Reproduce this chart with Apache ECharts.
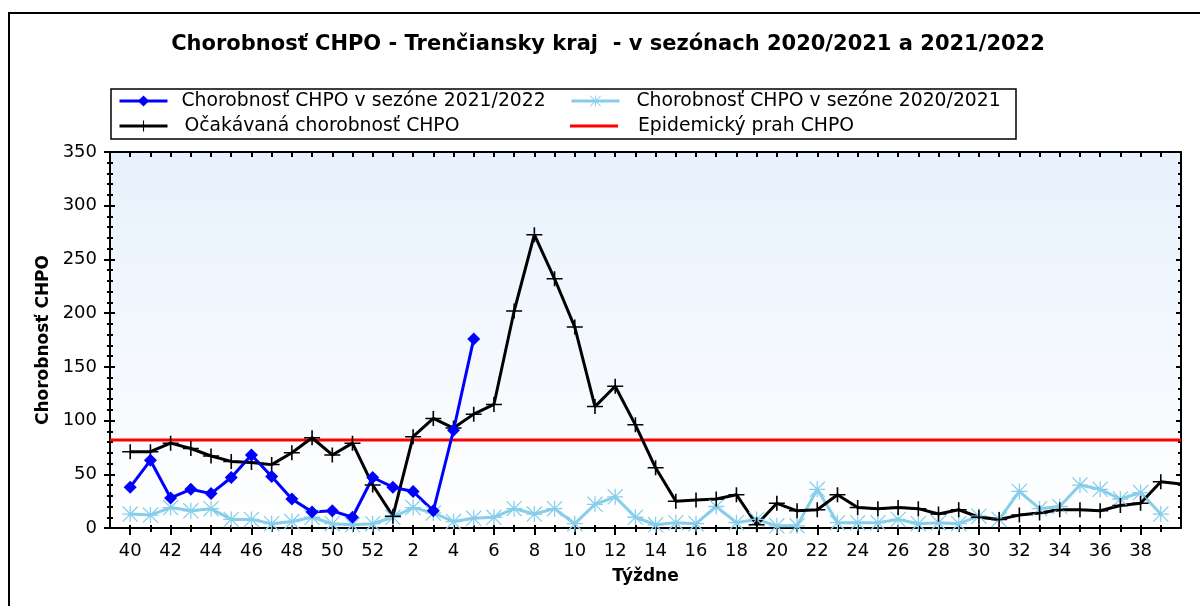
<!DOCTYPE html>
<html lang="sk">
<head>
<meta charset="UTF-8">
<title>Chorobnosť CHPO - Trenčiansky kraj</title>
<style>
  html, body { margin: 0; padding: 0; background: #fff; }
  #chart { width: 1200px; height: 606px; }
</style>
</head>
<body>
<div id="chart"></div>
<script src="https://cdn.jsdelivr.net/npm/echarts@6/dist/echarts.min.js"></script>
<script>
// tyzdne sezony (40..52, 1..39) + zaciatok dalsej sezony
var weeks = [40, 41, 42, 43, 44, 45, 46, 47, 48, 49, 50, 51, 52,
  1, 2, 3, 4, 5, 6, 7, 8, 9, 10, 11, 12, 13, 14, 15, 16, 17, 18, 19, 20,
  21, 22, 23, 24, 25, 26, 27, 28, 29, 30, 31, 32, 33, 34, 35, 36, 37, 38, 39, 40];

// sezona 2021/2022 (tyzden 40 az 5)
var season2122 = [38, 63, 28, 36, 32, 47, 68, 48, 27, 15, 16, 10, 47,
  38, 34, 16, 91, 176];

// sezona 2020/2021
var season2021 = [13, 12, 19, 16, 18, 8, 8, 4, 6, 10, 4, 3, 4,
  10, 19, 14, 6, 9, 10, 18, 13, 18, 4, 22, 29, 10, 3, 5, 4, 20, 5, 8, 2,
  2, 36, 5, 5, 5, 8, 4, 5, 4, 11, 8, 34, 18, 20, 40, 36, 27, 33, 13];

// ocakavana chorobnost
var expected = [71, 71, 79, 74, 67, 62, 61, 59, 70, 84, 68, 79, 40,
  11, 85, 102, 93, 106, 115, 202, 273, 232, 187, 113, 132, 96, 56, 25, 26, 27, 31, 3, 23,
  16, 17, 31, 19, 18, 19, 18, 13, 17, 10, 8, 12, 14, 17, 17, 16, 21, 23, 43, 41];

// epidemicky prah
var threshold = 82;

var yMin = 0, yMax = 350, yStep = 50;

var FONT = 'DejaVu Sans';

var names = {
  s2122: 'Chorobnosť CHPO v sezóne 2021/2022',
  s2021: 'Chorobnosť CHPO v sezóne 2020/2021',
  exp: 'Očakávaná chorobnosť CHPO',
  thr: 'Epidemický prah CHPO'
};

function toPoints(arr) {
  return arr.map(function (v, i) { return [i, v]; });
}

var labelIdx = [];
var allIdx = [];
for (var i = 0; i < 52; i++) {
  allIdx.push(i);
  if (i % 2 === 0) labelIdx.push(i);
}

var expectedPts = toPoints(expected);
// posledny bod lezi na okraji osi, bez znacky
expectedPts[expectedPts.length - 1] = { value: expectedPts[expectedPts.length - 1], symbol: 'none' };

var asterisk = 'path://M0 9.2H20V10.8H0Z M9.2 0H10.8V20H9.2Z M1.1 0L20 18.9L18.9 20L0 1.1Z M18.9 0L20 1.1L1.1 20L0 18.9Z';
var plus = 'path://M0 9H20V11H0Z M9 0H11V20H9Z';

var chart = echarts.init(document.getElementById('chart'));

var xBase = {
  type: 'value', min: -1, max: 52, position: 'bottom',
  splitLine: { show: false },
  axisLine: { show: false, onZero: false },
  axisLabel: { show: false },
  axisTick: { show: false }
};
var yBase = {
  type: 'value', min: yMin, max: yMax, interval: yStep, position: 'left',
  splitLine: { show: false },
  axisLine: { show: false, onZero: false },
  axisLabel: { show: false },
  axisTick: { show: false }
};
function ext(a, b) { return Object.assign({}, a, b); }

var legendCommon = {
  orient: 'horizontal',
  padding: 0,
  itemWidth: 48,
  itemHeight: 14,
  selectedMode: false,
  lineStyle: { width: 3 }
};
function legendText(pad) {
  return { fontFamily: FONT, fontSize: 18.8, color: '#000', lineHeight: 20, padding: [0, 0, 0, pad] };
}

var option = {
  animation: false,
  backgroundColor: '#fff',
  grid: {
    left: 110, right: 19, top: 152, bottom: 78,
    show: true, borderWidth: 0,
    backgroundColor: new echarts.graphic.LinearGradient(0, 0, 0, 1, [
      { offset: 0, color: '#e7f1fc' },
      { offset: 1, color: '#ffffff' }
    ])
  },
  graphic: [
    { type: 'rect', shape: { x: 9, y: 13, width: 1220, height: 640 },
      style: { fill: null, stroke: '#000', lineWidth: 2 } },
    { type: 'rect', shape: { x: 111, y: 89, width: 905, height: 50 },
      style: { fill: null, stroke: '#000', lineWidth: 1.5 } },
    { type: 'text', x: 608, y: 45,
      style: { text: 'Chorobnosť CHPO - Trenčiansky kraj  - v sezónach 2020/2021 a 2021/2022',
        fontFamily: FONT, fontSize: 21, fontWeight: 'bold', fill: '#000',
        textAlign: 'center', textVerticalAlign: 'middle' } }
  ],
  legend: [
    ext(legendCommon, { data: [names.s2122], left: 118, top: 91, textStyle: legendText(9) }),
    ext(legendCommon, { data: [names.exp], left: 118, top: 116, textStyle: legendText(12) }),
    ext(legendCommon, { data: [names.s2021], left: 570, top: 91, textStyle: legendText(12) }),
    ext(legendCommon, { data: [{ name: names.thr, icon: 'path://M0 0H48V3H0Z' }], left: 570, top: 116, textStyle: legendText(15) })
  ],
  xAxis: [
    ext(xBase, {
      axisLine: { show: true, onZero: false, lineStyle: { color: '#000', width: 2 } },
      axisTick: { show: true, customValues: labelIdx, length: 7, lineStyle: { color: '#000', width: 2 } },
      axisLabel: {
        show: true, customValues: labelIdx, margin: 14,
        fontFamily: FONT, fontSize: 18, color: '#000',
        formatter: function (v) { return String(weeks[v]); }
      },
      name: 'Týždne', nameLocation: 'middle', nameGap: 40,
      nameTextStyle: { fontFamily: FONT, fontSize: 17, fontWeight: 'bold', color: '#000' }
    }),
    ext(xBase, { axisTick: { show: true, customValues: allIdx, length: 4, lineStyle: { color: '#000', width: 2 } } }),
    ext(xBase, { axisTick: { show: true, inside: true, customValues: allIdx, length: 3, lineStyle: { color: '#000', width: 2 } } }),
    ext(xBase, {
      position: 'top',
      axisLine: { show: true, onZero: false, lineStyle: { color: '#000', width: 2 } },
      axisTick: { show: true, inside: true, customValues: allIdx, length: 5, lineStyle: { color: '#000', width: 2 } }
    })
  ],
  yAxis: [
    ext(yBase, {
      axisLine: { show: true, onZero: false, lineStyle: { color: '#000', width: 2 } },
      axisTick: { show: true, length: 6, lineStyle: { color: '#000', width: 2 } },
      minorTick: { show: true, splitNumber: 5, length: 3, lineStyle: { color: '#000', width: 2 } },
      axisLabel: { show: true, margin: 13, fontFamily: FONT, fontSize: 18, color: '#000' },
      name: 'Chorobnosť CHPO', nameLocation: 'middle', nameGap: 55,
      nameTextStyle: { fontFamily: FONT, fontSize: 17, fontWeight: 'bold', color: '#000' }
    }),
    ext(yBase, {
      axisTick: { show: true, inside: true, length: 5, lineStyle: { color: '#000', width: 2 } },
      minorTick: { show: true, splitNumber: 5, length: 3, lineStyle: { color: '#000', width: 2 } }
    }),
    ext(yBase, {
      position: 'right',
      axisLine: { show: true, onZero: false, lineStyle: { color: '#000', width: 2 } },
      axisTick: { show: true, inside: true, length: 5, lineStyle: { color: '#000', width: 2 } },
      minorTick: { show: true, splitNumber: 5, length: 3, lineStyle: { color: '#000', width: 2 } }
    })
  ],
  series: [
    {
      name: names.thr, type: 'line', symbol: 'none',
      data: [[-1, threshold], [52, threshold]],
      lineStyle: { color: '#ff0000', width: 3 },
      itemStyle: { color: '#ff0000' }
    },
    {
      name: names.s2021, type: 'line',
      data: toPoints(season2021),
      symbol: asterisk, symbolSize: 16,
      lineStyle: { color: '#87ceeb', width: 3 },
      itemStyle: { color: '#87ceeb' }
    },
    {
      name: names.exp, type: 'line',
      data: expectedPts,
      symbol: plus, symbolSize: [16, 15],
      lineStyle: { color: '#000', width: 3 },
      itemStyle: { color: '#000' }
    },
    {
      name: names.s2122, type: 'line',
      data: toPoints(season2122),
      symbol: 'diamond', symbolSize: 13,
      lineStyle: { color: '#0000ff', width: 3 },
      itemStyle: { color: '#0000ff' }
    }
  ]
};

chart.setOption(option);
</script>
</body>
</html>
